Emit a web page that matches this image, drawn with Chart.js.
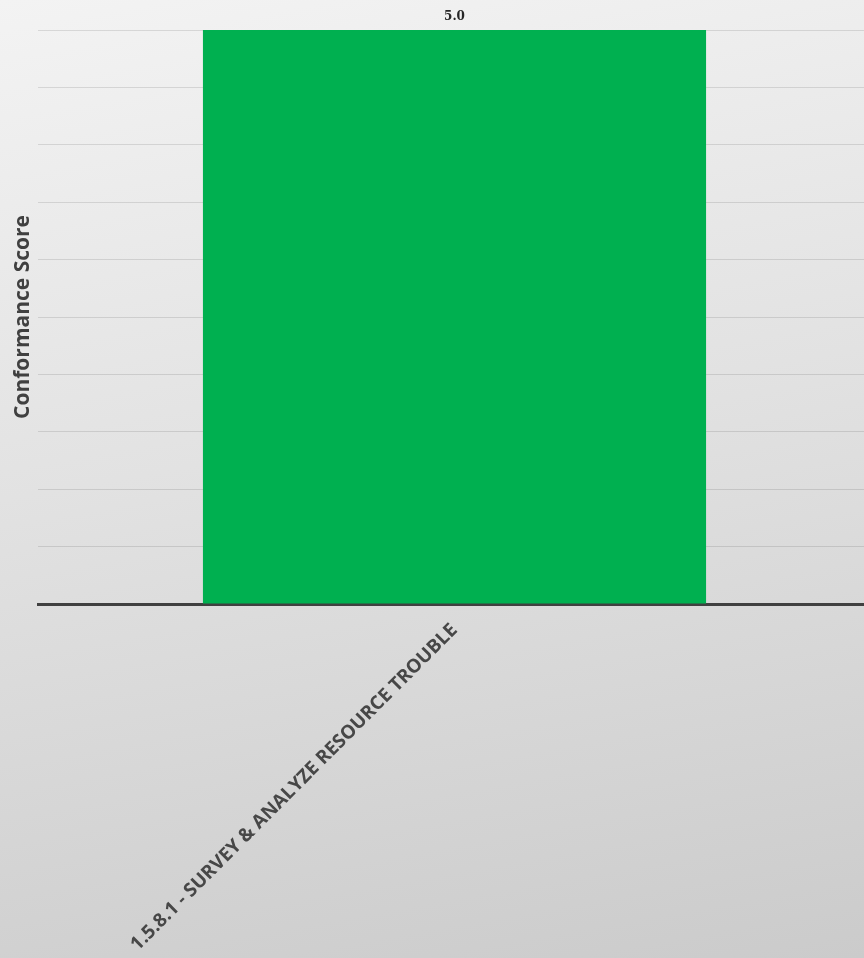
<!DOCTYPE html>
<html>
<head>
<meta charset="utf-8">
<script src="https://cdn.jsdelivr.net/npm/chart.js@4"></script>
<style>
  html, body { margin: 0; padding: 0; }
  body {
    width: 864px; height: 958px; overflow: hidden;
    background: linear-gradient(170deg, #f3f3f3 0%, #e2e2e2 45%, #cbcbcb 100%);
  }
  #wrap { width: 871px; height: 958px; position: relative; }
</style>
</head>
<body>
<div id="wrap"><canvas id="bar-chart"></canvas></div>
<script>
// categories and values
var categories = ["1.5.8.1 - SURVEY & ANALYZE RESOURCE TROUBLE"];
var scores = [5.0];
var yMin = 0, yMax = 5, yStep = 0.5;

// draws the value above each bar
var valueLabels = {
  id: 'valueLabels',
  afterDatasetsDraw: function (chart) {
    var ctx = chart.ctx;
    var meta = chart.getDatasetMeta(0);
    ctx.save();
    ctx.font = 'bold 12px "DejaVu Serif", serif';
    ctx.fillStyle = '#262626';
    ctx.textAlign = 'center';
    ctx.textBaseline = 'bottom';
    meta.data.forEach(function (bar, i) {
      ctx.fillText(scores[i].toFixed(1), bar.x, bar.y - 7);
    });
    ctx.restore();
  }
};

var ctx = document.getElementById("bar-chart");
new Chart(ctx, {
  type: 'bar',
  data: {
    labels: categories,
    datasets: [{
      data: scores,
      backgroundColor: '#00B050',
      borderWidth: 0,
      categoryPercentage: 1.0,
      barPercentage: 0.604
    }]
  },
  options: {
    responsive: true,
    maintainAspectRatio: false,
    animation: false,
    layout: { padding: { top: 30, right: 0, left: 0, bottom: 0 } },
    plugins: {
      legend: { display: false },
      tooltip: { enabled: false }
    },
    scales: {
      x: {
        grid: { display: false },
        border: { display: true, color: '#404040', width: 3 },
        ticks: {
          maxRotation: 45,
          minRotation: 45,
          autoSkip: false,
          padding: 7,
          color: '#474747',
          font: { family: 'Open Sans', size: 19, weight: 'bold' }
        },
        afterFit: function (axis) { axis.height = 354; }
      },
      y: {
        min: yMin,
        max: yMax,
        ticks: { display: false, stepSize: yStep },
        grid: { color: 'rgba(0,0,0,0.11)', lineWidth: 1, drawTicks: false },
        border: { display: false },
        title: {
          display: true,
          text: 'Conformance Score',
          color: '#404040',
          font: { family: 'Open Sans', size: 21, weight: 'bold' },
          padding: { top: 10, bottom: 0 }
        },
        afterFit: function (axis) { axis.width = 38; }
      }
    }
  },
  plugins: [valueLabels]
});
</script>
</body>
</html>
